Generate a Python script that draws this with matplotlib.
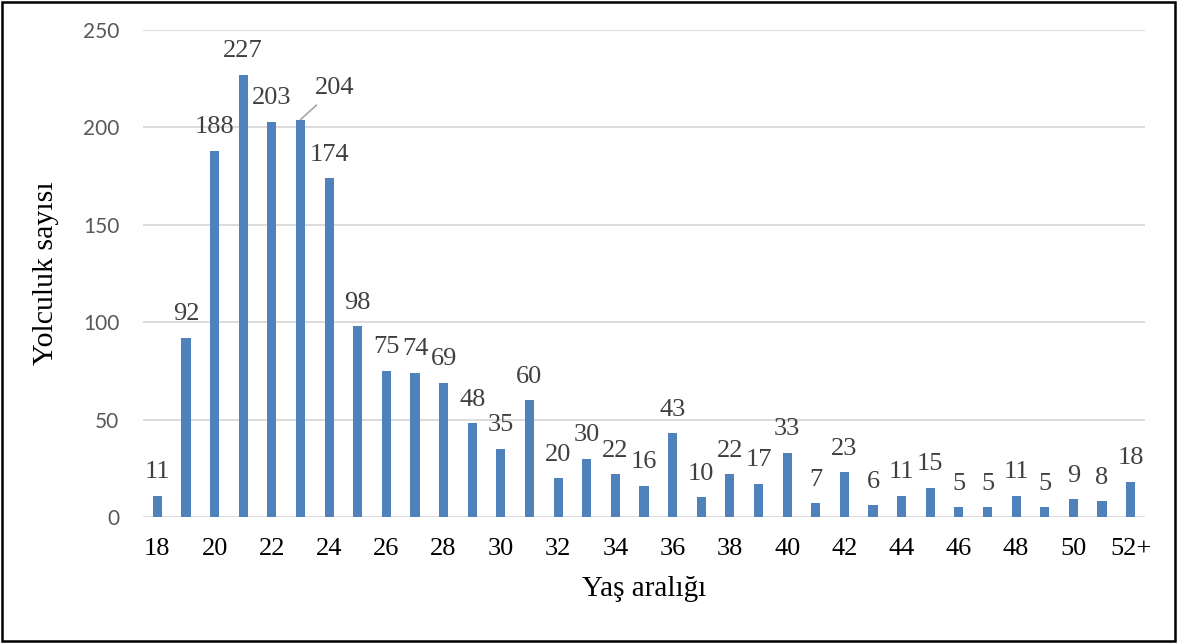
import matplotlib
matplotlib.use("Agg")
import matplotlib.pyplot as plt
from matplotlib.patches import Rectangle

# Age groups and trip counts
ages = [str(a) for a in range(18, 52)] + ["52+"]
trips = [11, 92, 188, 227, 203, 204, 174, 98, 75, 74, 69, 48, 35, 60, 20, 30,
         22, 16, 43, 10, 22, 17, 33, 7, 23, 6, 11, 15, 5, 5, 11, 5, 9, 8, 18]
y_ticks = [0, 50, 100, 150, 200, 250]

BAR_COLOR = "#4F81BD"
SERIF = "Liberation Serif"
SANS = "Lato"

fig = plt.figure(figsize=(11.77, 6.43), dpi=100)
ax = fig.add_axes([0.1215, 0.196, 0.8513, 0.7573])

x = list(range(len(ages)))
bars = ax.bar(x, trips, width=0.32, color=BAR_COLOR, zorder=3)

ax.set_xlim(-0.5, len(ages) - 0.5)
ax.set_ylim(0, 250)
ax.set_yticks(y_ticks)
ax.set_yticklabels([str(v) for v in y_ticks], fontfamily=SANS, fontsize=15,
                   color="#595959")
ax.set_xticks(x[::2])
ax.set_xticklabels(ages[::2], fontfamily=SERIF, fontsize=19, color="black")
ax.tick_params(axis="both", length=0)
ax.tick_params(axis="x", pad=15)
ax.tick_params(axis="y", pad=17)

ax.yaxis.grid(True, color="#D9D9D9", linewidth=1.3, zorder=0)
for s in ax.spines.values():
    s.set_visible(False)

# Value labels
for xi, v in zip(x, trips):
    if ages[xi] == "23":
        ax.annotate(str(v), xy=(xi, v), xytext=(xi + 1.2, v + 16),
                    ha="center", va="center", fontfamily=SERIF, fontsize=19,
                    color="#404040",
                    arrowprops=dict(arrowstyle="-", color="#A6A6A6", lw=1.2,
                                    shrinkA=3, shrinkB=0))
    else:
        ax.annotate(str(v), xy=(xi, v), xytext=(0, 9), textcoords="offset points",
                    ha="center", va="bottom", fontfamily=SERIF, fontsize=19,
                    color="#404040")

ax.set_ylabel("Yolculuk sayısı", fontfamily=SERIF, fontsize=21.5, labelpad=17)
ax.set_xlabel("Yaş aralığı", fontfamily=SERIF, fontsize=21, labelpad=12)

# Outer frame
fig.patches.append(Rectangle((0.002, 0.003), 0.996, 0.994, transform=fig.transFigure,
                             fill=False, edgecolor="black", linewidth=1.8))

fig.savefig("out.png", dpi=100)
